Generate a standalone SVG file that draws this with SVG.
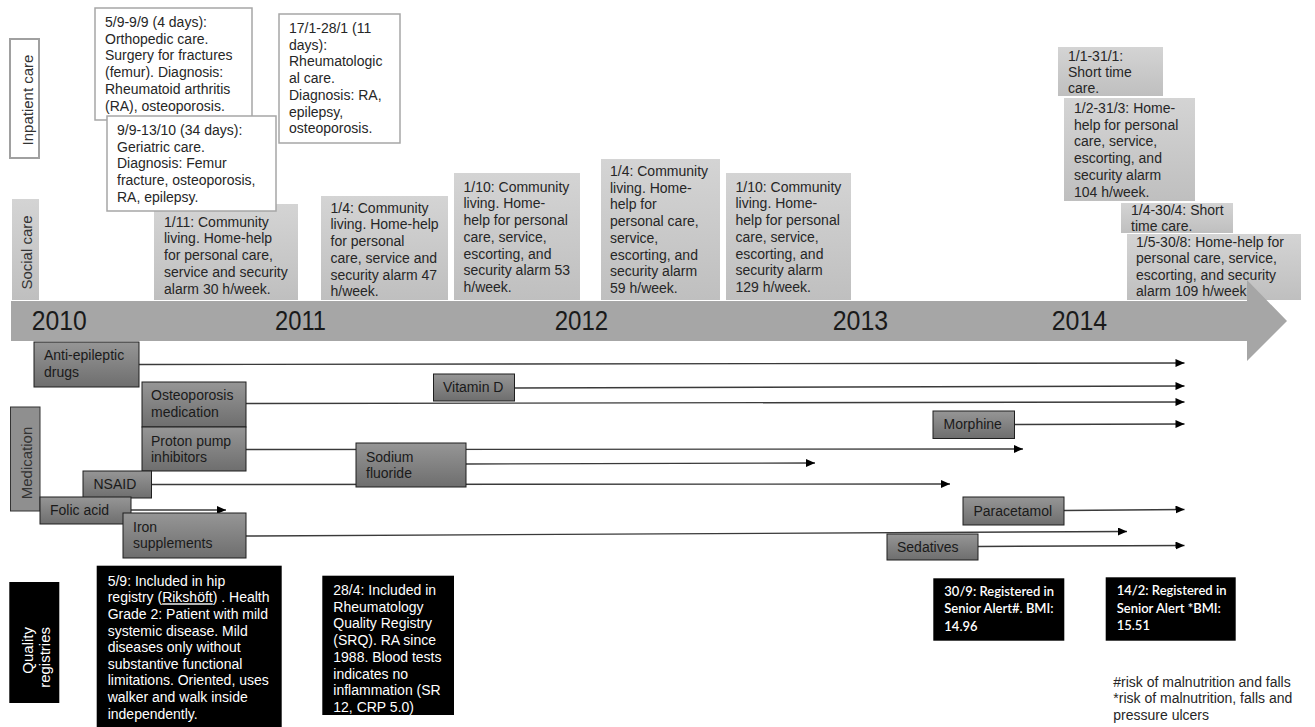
<svg xmlns="http://www.w3.org/2000/svg" width="1315" height="727" viewBox="0 0 1315 727">
<defs>
<linearGradient id="gs" x1="0" y1="0" x2="0" y2="1"><stop offset="0" stop-color="#d4d4d4"/><stop offset="1" stop-color="#bfbfbf"/></linearGradient>
<linearGradient id="gm" x1="0" y1="0" x2="0" y2="1"><stop offset="0" stop-color="#969696"/><stop offset="1" stop-color="#6e6e6e"/></linearGradient>
<marker id="ah" markerWidth="10" markerHeight="8" refX="9" refY="4" orient="auto" markerUnits="userSpaceOnUse"><path d="M0,0 L9,4 L0,8 z" fill="#000"/></marker>
<style>
text{font-family:"Liberation Sans",Arial,sans-serif;font-size:14px;fill:#262626}
.ib{fill:#fff;stroke:#a6a6a6;stroke-width:1.5}
.lb{fill:#fff;stroke:#a0a0a0;stroke-width:2}
.sb{fill:url(#gs)}
.mb{fill:url(#gm);stroke:#1f1f1f;stroke-width:1}
.ml{fill:#8f8f8f;stroke:#333;stroke-width:1}
.qb{fill:#000}
.lane{font-size:15px;fill:#333}
.qt{fill:#fff}
.ct{font-family:Lato,"Liberation Sans",sans-serif;font-weight:600;font-size:13px;fill:#fff}
.yr{font-size:27px;fill:#1a1a1a}
.mt{fill:#1a1a1a}
#connectors line{stroke:#3a3a3a;stroke-width:1.4;marker-end:url(#ah)}
</style>
</defs>
<rect width="1315" height="727" fill="#fff"/>

<!-- lane labels -->
<g id="lane-inpatient"><rect class="lb" x="10" y="39" width="29" height="119"/><text class="lane" text-anchor="middle" transform="translate(33,100) rotate(-90)">Inpatient care</text></g>
<g id="lane-social"><rect class="sb" x="12" y="199" width="27" height="101"/><text class="lane" text-anchor="middle" transform="translate(32,252.5) rotate(-90)">Social care</text></g>

<!-- social care boxes -->
<g id="s1"><rect class="sb" x="154" y="204" width="144" height="96"/><text x="164" y="226.7"><tspan x="164">1/11: Community</tspan><tspan x="164" dy="16.7">living. Home-help</tspan><tspan x="164" dy="16.7">for personal care,</tspan><tspan x="164" dy="16.7">service and security</tspan><tspan x="164" dy="16.7">alarm 30 h/week.</tspan></text></g>
<g id="s2"><rect class="sb" x="321" y="196" width="127" height="104"/><text x="330.5" y="212.7"><tspan x="330.5">1/4: Community</tspan><tspan x="330.5" dy="16.7">living. Home-help</tspan><tspan x="330.5" dy="16.7">for personal</tspan><tspan x="330.5" dy="16.7">care, service and</tspan><tspan x="330.5" dy="16.7">security alarm 47</tspan><tspan x="330.5" dy="16.7">h/week.</tspan></text></g>
<g id="s3"><rect class="sb" x="454" y="173" width="126" height="127"/><text x="463.5" y="191.7"><tspan x="463.5">1/10: Community</tspan><tspan x="463.5" dy="16.7">living. Home-</tspan><tspan x="463.5" dy="16.7">help for personal</tspan><tspan x="463.5" dy="16.7">care, service,</tspan><tspan x="463.5" dy="16.7">escorting, and</tspan><tspan x="463.5" dy="16.7">security alarm 53</tspan><tspan x="463.5" dy="16.7">h/week.</tspan></text></g>
<g id="s4"><rect class="sb" x="601" y="159" width="119" height="141"/><text x="610" y="176"><tspan x="610">1/4: Community</tspan><tspan x="610" dy="16.7">living. Home-</tspan><tspan x="610" dy="16.7">help for</tspan><tspan x="610" dy="16.7">personal care,</tspan><tspan x="610" dy="16.7">service,</tspan><tspan x="610" dy="16.7">escorting, and</tspan><tspan x="610" dy="16.7">security alarm</tspan><tspan x="610" dy="16.7">59 h/week.</tspan></text></g>
<g id="s5"><rect class="sb" x="726" y="173" width="125" height="127"/><text x="735.5" y="191.7"><tspan x="735.5">1/10: Community</tspan><tspan x="735.5" dy="16.7">living. Home-</tspan><tspan x="735.5" dy="16.7">help for personal</tspan><tspan x="735.5" dy="16.7">care, service,</tspan><tspan x="735.5" dy="16.7">escorting, and</tspan><tspan x="735.5" dy="16.7">security alarm</tspan><tspan x="735.5" dy="16.7">129 h/week.</tspan></text></g>
<g id="r1"><rect class="sb" x="1058" y="47" width="105" height="49"/><text x="1068" y="60.5"><tspan x="1068">1/1-31/1:</tspan><tspan x="1068" dy="16.2">Short time</tspan><tspan x="1068" dy="16.2">care.</tspan></text></g>
<g id="r2"><rect class="sb" x="1064" y="98" width="131" height="103"/><text x="1074" y="113"><tspan x="1074">1/2-31/3: Home-</tspan><tspan x="1074" dy="16.7">help for personal</tspan><tspan x="1074" dy="16.7">care, service,</tspan><tspan x="1074" dy="16.7">escorting, and</tspan><tspan x="1074" dy="16.7">security alarm</tspan><tspan x="1074" dy="16.7">104 h/week.</tspan></text></g>
<g id="r3"><rect class="sb" x="1121" y="203" width="112" height="30"/><text x="1131" y="215"><tspan x="1131">1/4-30/4: Short</tspan><tspan x="1131" dy="15.5">time care.</tspan></text></g>
<g id="r4"><rect class="sb" x="1127" y="234" width="174" height="66"/><text x="1136" y="247"><tspan x="1136">1/5-30/8: Home-help for</tspan><tspan x="1136" dy="16.3">personal care, service,</tspan><tspan x="1136" dy="16.3">escorting, and security</tspan><tspan x="1136" dy="16.3">alarm 109 h/week.</tspan></text></g>

<!-- inpatient boxes -->
<g id="i1"><rect class="ib" x="95" y="8" width="157" height="112"/><text x="105" y="27"><tspan x="105">5/9-9/9 (4 days):</tspan><tspan x="105" dy="16.7">Orthopedic care.</tspan><tspan x="105" dy="16.7">Surgery for fractures</tspan><tspan x="105" dy="16.7">(femur). Diagnosis:</tspan><tspan x="105" dy="16.7">Rheumatoid arthritis</tspan><tspan x="105" dy="16.7">(RA), osteoporosis.</tspan></text></g>
<g id="i2"><rect class="ib" x="107" y="116" width="169" height="95"/><text x="117" y="135"><tspan x="117">9/9-13/10 (34 days):</tspan><tspan x="117" dy="16.7">Geriatric care.</tspan><tspan x="117" dy="16.7">Diagnosis: Femur</tspan><tspan x="117" dy="16.7">fracture, osteoporosis,</tspan><tspan x="117" dy="16.7">RA, epilepsy.</tspan></text></g>
<g id="i3"><rect class="ib" x="279" y="14" width="121" height="129"/><text x="289" y="33"><tspan x="289">17/1-28/1 (11</tspan><tspan x="289" dy="16.7">days):</tspan><tspan x="289" dy="16.7">Rheumatologic</tspan><tspan x="289" dy="16.7">al care.</tspan><tspan x="289" dy="16.7">Diagnosis: RA,</tspan><tspan x="289" dy="16.7">epilepsy,</tspan><tspan x="289" dy="16.7">osteoporosis.</tspan></text></g>

<!-- timeline -->
<g id="timeline"><polygon points="11,301 1247,301 1247,280 1287,321 1247,361 1247,341 11,341" fill="#a6a6a6"/>
<text class="yr" x="31.7" y="330" textLength="55" lengthAdjust="spacingAndGlyphs">2010</text><text class="yr" x="275" y="330" textLength="51" lengthAdjust="spacingAndGlyphs">2011</text><text class="yr" x="554.7" y="330" textLength="53.5" lengthAdjust="spacingAndGlyphs">2012</text><text class="yr" x="832.7" y="330" textLength="55.5" lengthAdjust="spacingAndGlyphs">2013</text><text class="yr" x="1051.7" y="330" textLength="55.5" lengthAdjust="spacingAndGlyphs">2014</text></g>

<!-- connectors -->
<g id="connectors">
<line x1="139" y1="364.5" x2="1184.5" y2="363"/>
<line x1="514" y1="388" x2="1184.5" y2="386"/>
<line x1="246" y1="403.5" x2="1184.5" y2="402"/>
<line x1="1014" y1="424.5" x2="1184.5" y2="424"/>
<line x1="246" y1="449.5" x2="1023" y2="449"/>
<line x1="466" y1="464" x2="815" y2="463"/>
<line x1="151" y1="484.5" x2="950" y2="484"/>
<line x1="1064" y1="510.5" x2="1184.5" y2="509.5"/>
<line x1="131" y1="510" x2="226" y2="510"/>
<line x1="246" y1="536" x2="1127" y2="531.5"/>
<line x1="978" y1="546.5" x2="1184.5" y2="545.5"/>
</g>

<!-- medication -->
<g id="lane-medication"><rect class="ml" x="10.5" y="407" width="29.5" height="104"/><text class="lane" text-anchor="middle" transform="translate(31.5,463) rotate(-90)">Medication</text></g>
<g id="m-antiepileptic"><rect class="mb" x="34" y="342" width="105" height="45"/><text class="mt" x="44" y="360"><tspan x="44">Anti-epileptic</tspan><tspan x="44" dy="16.7">drugs</tspan></text></g>
<g id="m-vitd"><rect class="mb" x="433.5" y="374" width="81" height="27"/><text class="mt" x="443" y="391.5">Vitamin D</text></g>
<g id="m-osteo"><rect class="mb" x="142" y="382" width="104" height="45"/><text class="mt" x="151" y="400"><tspan x="151">Osteoporosis</tspan><tspan x="151" dy="16.7">medication</tspan></text></g>
<g id="m-ppi"><rect class="mb" x="142" y="427" width="104" height="44"/><text class="mt" x="151" y="445.7"><tspan x="151">Proton pump</tspan><tspan x="151" dy="16.7">inhibitors</tspan></text></g>
<g id="m-sodium"><rect class="mb" x="356" y="443" width="110" height="44"/><text class="mt" x="366" y="461.7"><tspan x="366">Sodium</tspan><tspan x="366" dy="16.7">fluoride</tspan></text></g>
<g id="m-nsaid"><rect class="mb" x="83" y="471" width="68.5" height="27"/><text class="mt" x="93.5" y="488.5">NSAID</text></g>
<g id="m-folic"><rect class="mb" x="40" y="497" width="91" height="27"/><text class="mt" x="50" y="515">Folic acid</text></g>
<g id="m-iron"><rect class="mb" x="123" y="513" width="123" height="45"/><text class="mt" x="133" y="531.7"><tspan x="133">Iron</tspan><tspan x="133" dy="16.7">supplements</tspan></text></g>
<g id="m-morphine"><rect class="mb" x="933" y="411" width="81.5" height="27.5"/><text class="mt" x="943.5" y="428.5">Morphine</text></g>
<g id="m-paracetamol"><rect class="mb" x="963" y="497" width="101" height="28"/><text class="mt" x="973.5" y="516">Paracetamol</text></g>
<g id="m-sedatives"><rect class="mb" x="887" y="534" width="91" height="26"/><text class="mt" x="897" y="552">Sedatives</text></g>

<!-- quality registries -->
<g id="lane-quality"><rect class="qb" x="9.3" y="582" width="50" height="121"/><text class="lane qt" text-anchor="end" transform="translate(33.3,627) rotate(-90)">Quality</text><text class="lane qt" text-anchor="end" transform="translate(49.5,627) rotate(-90)">registries</text></g>
<g id="q1"><rect class="qb" x="96.7" y="565.7" width="185" height="161.3"/><text class="qt" x="107.7" y="585.7"><tspan x="107.7">5/9: Included in hip</tspan><tspan x="107.7" dy="16.6">registry (<tspan text-decoration="underline">Rikshöft</tspan>) . Health</tspan><tspan x="107.7" dy="16.6">Grade 2: Patient with mild</tspan><tspan x="107.7" dy="16.6">systemic disease. Mild</tspan><tspan x="107.7" dy="16.6">diseases only without</tspan><tspan x="107.7" dy="16.6">substantive functional</tspan><tspan x="107.7" dy="16.6">limitations. Oriented, uses</tspan><tspan x="107.7" dy="16.6">walker and walk inside</tspan><tspan x="107.7" dy="16.6">independently.</tspan></text></g>
<g id="q2"><rect class="qb" x="322.3" y="575.7" width="131.7" height="139.3"/><text class="qt" x="333.3" y="595"><tspan x="333.3">28/4: Included in</tspan><tspan x="333.3" dy="16.7">Rheumatology</tspan><tspan x="333.3" dy="16.7">Quality Registry</tspan><tspan x="333.3" dy="16.7">(SRQ). RA since</tspan><tspan x="333.3" dy="16.7">1988. Blood tests</tspan><tspan x="333.3" dy="16.7">indicates no</tspan><tspan x="333.3" dy="16.7">inflammation (SR</tspan><tspan x="333.3" dy="16.7">12, CRP 5.0)</tspan></text></g>
<g id="q3"><rect class="qb" x="933.3" y="578.3" width="131" height="62.4"/><text class="ct" x="944.3" y="595.7"><tspan x="944.3">30/9: Registered in</tspan><tspan x="944.3" dy="17.5">Senior Alert#. BMI:</tspan><tspan x="944.3" dy="17.5">14.96</tspan></text></g>
<g id="q4"><rect class="qb" x="1105.7" y="577.3" width="130" height="63.4"/><text class="ct" x="1116.7" y="595.3"><tspan x="1116.7">14/2: Registered in</tspan><tspan x="1116.7" dy="17.5">Senior Alert *BMI:</tspan><tspan x="1116.7" dy="17.5">15.51</tspan></text></g>
<g id="footnote"><text x="1113.3" y="686.7"><tspan x="1113.3">#risk of malnutrition and falls</tspan><tspan x="1113.3" dy="16.7">*risk of malnutrition, falls and</tspan><tspan x="1113.3" dy="16.7">pressure ulcers</tspan></text></g>
</svg>
